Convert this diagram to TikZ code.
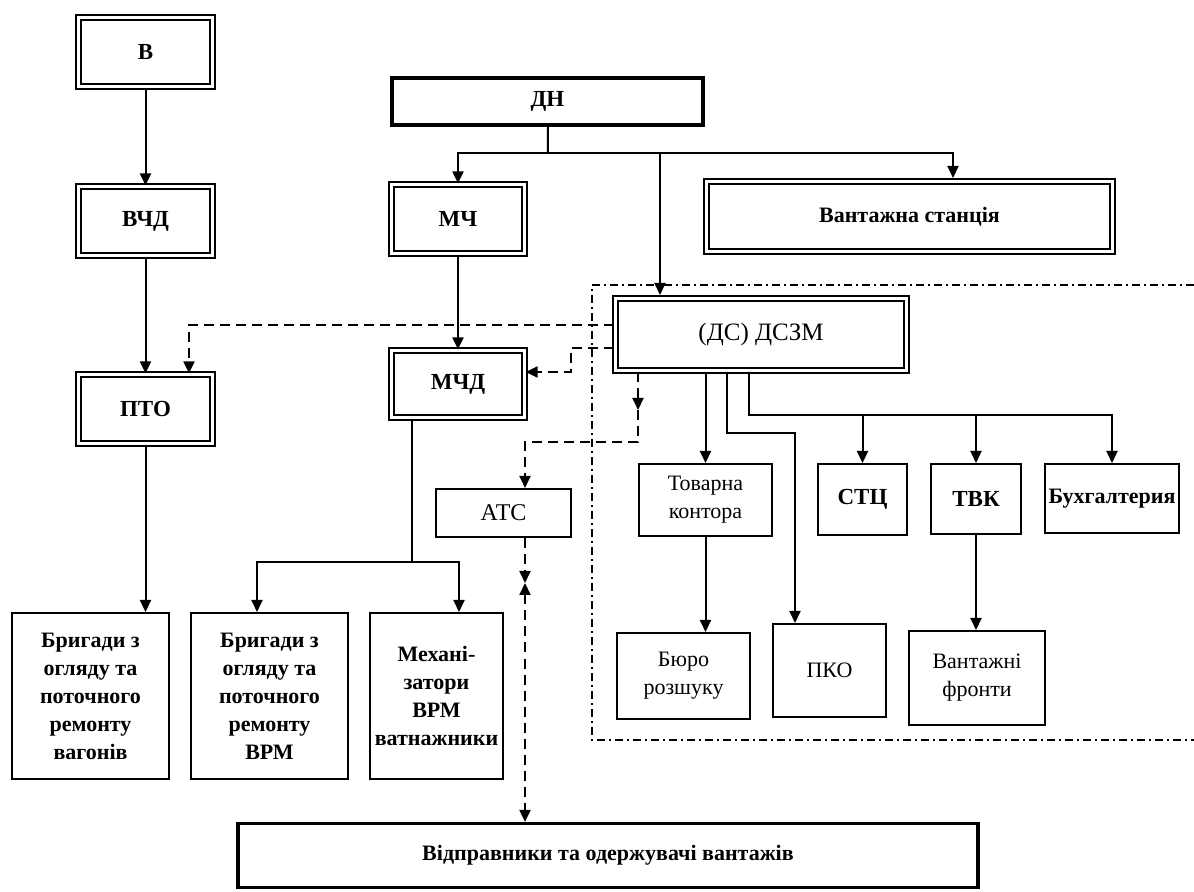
\documentclass[tikz,border=0pt]{standalone}
\usepackage{fontspec}
\setmainfont{Liberation Serif}
\usetikzlibrary{arrows.meta}

\tikzset{
  box/.style={draw, line width=1pt, align=center, inner sep=1pt, font=\fontsize{11}{14}\selectfont},
  dblbox/.style={box, line width=1.1pt, double, double distance=1.4pt, font=\fontsize{11.5}{14}\selectfont\bfseries},
  conn/.style={line width=1pt, -{Triangle[length=6pt,width=5.5pt]}},
  dconn/.style={conn, dash pattern=on 5pt off 3pt},
  frame/.style={line width=0.8pt, dash pattern=on 4pt off 2pt on 1pt off 2pt},
}

\begin{document}
\begin{tikzpicture}[x=0.5pt,y=-0.5pt]
\useasboundingbox (0,0) rectangle (1194,892);

%top level
\node[dblbox, minimum width=67pt, minimum height=34.5pt] (v) at (145.5,52) {В};
\node[dblbox, minimum width=67pt, minimum height=34.5pt] (vchd) at (145.5,221) {ВЧД};
\node[dblbox, minimum width=67pt, minimum height=34.5pt] (pto) at (145.5,409) {ПТО};
\node[box, line width=2pt, minimum width=155.5pt, minimum height=23.5pt, font=\fontsize{11.5}{14}\selectfont\bfseries] (dn) at (547.5,101.5) {ДН};
\node[dblbox, minimum width=66.5pt, minimum height=34.5pt] (mch) at (458,219) {МЧ};
\node[dblbox, minimum width=66.5pt, minimum height=33.5pt] (mchd) at (458,384) {МЧД};
\node[dblbox, minimum width=203pt, minimum height=35pt, font=\fontsize{11}{14}\selectfont\bfseries] (vs) at (909.5,216.5) {Вантажна станція};
\node[dblbox, minimum width=145.5pt, minimum height=36pt, font=\fontsize{12.5}{14}\selectfont] (dszm) at (761,334.5) {(ДС) ДСЗМ};

%middle row
\node[box, minimum width=67.5pt, minimum height=24pt, font=\fontsize{12}{14}\selectfont] (ats) at (503.5,513) {АТС};
\node[box, minimum width=66.5pt, minimum height=36pt] (tk) at (705.5,500) {Товарна\\контора};
\node[box, minimum width=44.5pt, minimum height=35.5pt, font=\fontsize{11.5}{14}\selectfont\bfseries] (stc) at (862.5,499.5) {СТЦ};
\node[box, minimum width=45pt, minimum height=35pt, font=\fontsize{11.5}{14}\selectfont\bfseries] (tvk) at (976,499) {ТВК};
\node[box, minimum width=67pt, minimum height=34.5pt, font=\fontsize{11}{14}\selectfont\bfseries] (buh) at (1112,498.5) {Бухгалтерия};

%lower row
\node[box, minimum width=66.5pt, minimum height=43pt] (buro) at (683.5,676) {Бюро\\розшуку};
\node[box, minimum width=56.5pt, minimum height=46.5pt] (pko) at (829.5,670.5) {ПКО};
\node[box, minimum width=68pt, minimum height=47pt] (vf) at (977,678) {Вантажні\\фронти};
\node[box, minimum width=78.5pt, minimum height=83pt, font=\fontsize{11}{14}\selectfont\bfseries] (bv) at (90.5,696) {Бригади з\\огляду та\\поточного\\ремонту\\вагонів};
\node[box, minimum width=78.5pt, minimum height=83pt, font=\fontsize{11}{14}\selectfont\bfseries] (bvrm) at (269.5,696) {Бригади з\\огляду та\\поточного\\ремонту\\ВРМ};
\node[box, minimum width=66.5pt, minimum height=83pt, font=\fontsize{11}{14}\selectfont\bfseries] (mech) at (436.5,696) {Механі-\\затори\\ВРМ\\ватнажники};
\node[box, line width=1.6pt, minimum width=370pt, minimum height=32pt, font=\fontsize{11}{14}\selectfont\bfseries] (vidpr) at (608,855.5) {Відправники та одержувачі вантажів};

%junctions
\coordinate (jdn) at (548,153);
\coordinate (avs) at (953,178);
\coordinate (adszm) at (660,295);
\coordinate (d1) at (189,325);
\coordinate (d2) at (571,348);
\coordinate (d2b) at (571,372);
\coordinate (d3) at (638,410);
\coordinate (d3b) at (638,442);
\coordinate (aats) at (525,442);
\coordinate (d4) at (525,583);
\coordinate (jpko) at (727,433);
\coordinate (apko) at (795,433);
\coordinate (jst) at (749,415);
\coordinate (jm) at (412,562);
\coordinate (abvrm) at (257,562);
\coordinate (amech) at (459,562);

%frame
\draw[frame] (1194,285) -- (592,285) -- (592,740) -- (1194,740);

%solid links
\draw[conn] (v) -- (vchd);
\draw[conn] (vchd) -- (pto);
\draw[conn] (pto) -- (pto |- bv.north);
\draw[line width=1pt] (dn) -- (jdn);
\draw[conn] (jdn) -| (mch);
\draw[conn] (jdn) -| (avs);
\draw[conn] (jdn -| adszm) -- (adszm);
\draw[conn] (mch) -- (mchd);
\draw[line width=1pt] (mchd.south -| jm) -- (jm);
\draw[conn] (jm) -- (abvrm) -- (bvrm.north -| abvrm);
\draw[conn] (jm) -- (amech) -- (mech.north -| amech);
\draw[conn] (dszm.south -| tk) -- (tk);
\draw[conn] (dszm.south -| jpko) -- (jpko) -- (apko) -- (pko.north -| apko);
\draw[conn] (dszm.south -| jst) -- (jst) -| (buh);
\draw[conn] (jst -| stc) -- (stc);
\draw[conn] (jst -| tvk) -- (tvk);
\draw[conn] (tk) -- (tk |- buro.north);
\draw[conn] (tvk) -- (tvk |- vf.north);

%dashed links
\draw[dconn] (dszm.west |- d1) -- (d1) -- (pto.north -| d1);
\draw[dconn] (dszm.west |- d2) -- (d2) -- (d2b) -- (mchd.east |- d2b);
\draw[dconn] (dszm.south -| d3) -- (d3);
\draw[dconn] (d3) -- (d3b) -- (aats) -- (ats.north -| aats);
\draw[dconn] (ats.south -| d4) -- (d4);
\draw[dconn, {Triangle[length=6pt,width=5.5pt]}-{Triangle[length=6pt,width=5.5pt]}] (d4) -- (vidpr.north -| d4);
\end{tikzpicture}
\end{document}
